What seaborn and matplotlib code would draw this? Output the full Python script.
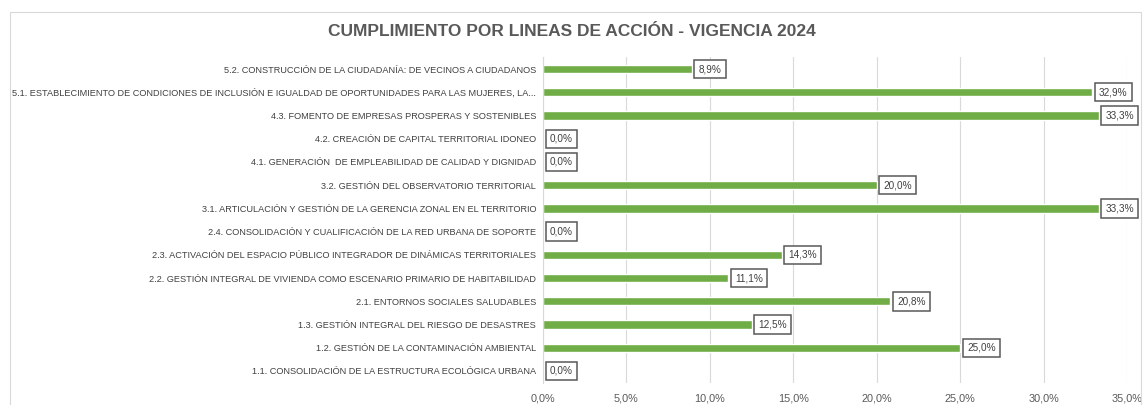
import numpy as np
import pandas as pd
import matplotlib
matplotlib.use("Agg")
import matplotlib.pyplot as plt
import seaborn as sns
from matplotlib.patches import Rectangle
from matplotlib.ticker import FuncFormatter

lineas = [
    "5.2. CONSTRUCCIÓN DE LA CIUDADANÍA: DE VECINOS A CIUDADANOS",
    "5.1. ESTABLECIMIENTO DE CONDICIONES DE INCLUSIÓN E IGUALDAD DE OPORTUNIDADES PARA LAS MUJERES, LA...",
    "4.3. FOMENTO DE EMPRESAS PROSPERAS Y SOSTENIBLES",
    "4.2. CREACIÓN DE CAPITAL TERRITORIAL IDONEO",
    "4.1. GENERACIÓN  DE EMPLEABILIDAD DE CALIDAD Y DIGNIDAD",
    "3.2. GESTIÓN DEL OBSERVATORIO TERRITORIAL",
    "3.1. ARTICULACIÓN Y GESTIÓN DE LA GERENCIA ZONAL EN EL TERRITORIO",
    "2.4. CONSOLIDACIÓN Y CUALIFICACIÓN DE LA RED URBANA DE SOPORTE",
    "2.3. ACTIVACIÓN DEL ESPACIO PÚBLICO INTEGRADOR DE DINÁMICAS TERRITORIALES",
    "2.2. GESTIÓN INTEGRAL DE VIVIENDA COMO ESCENARIO PRIMARIO DE HABITABILIDAD",
    "2.1. ENTORNOS SOCIALES SALUDABLES",
    "1.3. GESTIÓN INTEGRAL DEL RIESGO DE DESASTRES",
    "1.2. GESTIÓN DE LA CONTAMINACIÓN AMBIENTAL",
    "1.1. CONSOLIDACIÓN DE LA ESTRUCTURA ECOLÓGICA URBANA",
]
cumplimiento = [8.9, 32.9, 33.3, 0.0, 0.0, 20.0, 33.3, 0.0, 14.3, 11.1, 20.8, 12.5, 25.0, 0.0]
x_ticks = [0, 5, 10, 15, 20, 25, 30, 35]

df = pd.DataFrame({"linea": lineas, "valor": cumplimiento})

sns.set_style("white")
plt.rcParams["font.family"] = ["Liberation Sans Narrow", "Liberation Sans", "DejaVu Sans"]

def pct(v):
    return f"{v:.1f}".replace(".", ",") + "%"

fig = plt.figure(figsize=(11.44, 4.05), dpi=100)
ax = fig.add_axes([543 / 1144, 1 - 382.6 / 405, (1127 - 543) / 1144, 325.2 / 405])

sns.barplot(data=df, x="valor", y="linea", orient="h", color="#70AD47",
            width=0.36, saturation=1, ax=ax)

ax.set_xlim(0, 35)
ax.set_ylim(13.5, -0.5)
ax.set_xticks(x_ticks)
ax.xaxis.set_major_formatter(FuncFormatter(lambda v, p: pct(v)))
ax.grid(axis="x", color="#D9D9D9", linewidth=0.8)
ax.set_axisbelow(True)
for s in ["top", "right", "bottom"]:
    ax.spines[s].set_visible(False)
ax.spines["left"].set_color("#D9D9D9")
ax.set_xlabel("")
ax.set_ylabel("")
ax.tick_params(axis="y", labelsize=6.55, colors="#404040", length=0, pad=5)
ax.tick_params(axis="x", labelsize=7.8, colors="#595959", length=0, pad=8)

for i, v in enumerate(cumplimiento):
    ax.annotate(pct(v), xy=(v, i), xytext=(5, 0), textcoords="offset points",
                ha="left", va="center", fontsize=7.2, color="#404040",
                bbox=dict(boxstyle="square,pad=0.42", fc="white", ec="#595959", lw=1.1))

fig.text(0.5, 1 - 32 / 405, "CUMPLIMIENTO POR LINEAS DE ACCIÓN - VIGENCIA 2024",
         ha="center", va="center", fontsize=12.5, fontweight="bold", color="#595959",
         family=["Liberation Sans", "DejaVu Sans"])

fig.patches.append(Rectangle((10 / 1144, -0.01), 1131 / 1144, 1 - 12 / 405 + 0.01,
                             transform=fig.transFigure, fill=False,
                             ec="#D9D9D9", lw=0.8))

fig.savefig("out.png", dpi=100)
